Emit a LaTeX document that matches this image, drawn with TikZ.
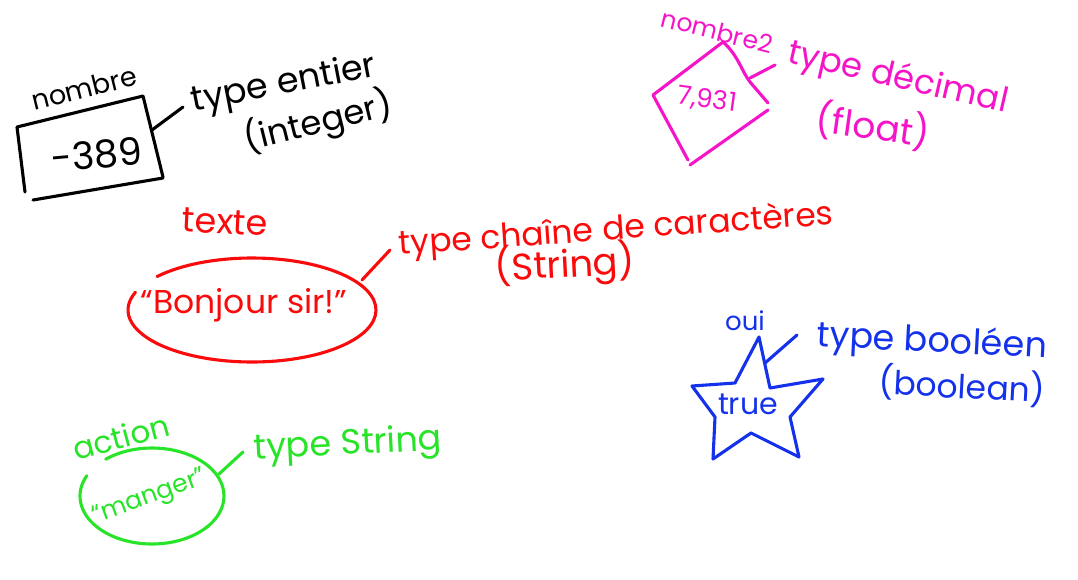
\documentclass[tikz,border=0pt]{standalone}
\usepackage{fontspec}
\setmainfont{Poppins}
\definecolor{inkblack}{RGB}{0,0,0}
\definecolor{inkpink}{RGB}{245,20,200}
\definecolor{inkred}{RGB}{250,10,10}
\definecolor{inkgreen}{RGB}{40,228,40}
\definecolor{inkblue}{RGB}{20,50,235}
\begin{document}
\begin{tikzpicture}[x=1pt,y=-1pt,
  ink/.style={line width=3.1pt, line cap=round, line join=round},
  txt/.style={inner sep=0pt, font=\fontsize{#1}{#1}\selectfont}]
\fill[white] (0,0) rectangle (1078,579);
\useasboundingbox (0,0) rectangle (1078,579);

% ---------- black : integer ----------
\begin{scope}[color=inkblack]
\draw[ink] (25,192) -- (17,127) -- (143,96) -- (163,177);
\draw[ink] (163,178) -- (33,200);
\node[txt=38, rotate=5] (n389) at (97,155) {-389};
\node[txt=27, rotate=14] (nombre) at (84,88) {nombre};
\coordinate (bA) at (152,130);
\coordinate (bB) at (183,107);
\draw[ink] (bA) -- (bB);
\node[txt=35, rotate=11] (tEntier) at (284,85) {type entier};
\node[txt=34, rotate=14] (tInteger) at (318,122) {(integer)};
\end{scope}

% ---------- pink : float ----------
\begin{scope}[color=inkpink]
\draw[ink] (688,160) -- (653,95) -- (723,42) .. controls (738,55) and (742,72) .. (750,82) -- (768,103);
\draw[ink] (768,110) -- (690,165);
\node[txt=26, rotate=-8] (n7931) at (707,100) {7,931};
\node[txt=25, rotate=-14] (nombre2) at (717,31) {nombre2};
\coordinate (pA) at (750,78);
\coordinate (pB) at (775,65);
\draw[ink] (pA) -- (pB);
\node[txt=34, rotate=-13] (tDecimal) at (898,79) {type décimal};
\node[txt=36, rotate=-8] (tFloat) at (873,126) {(float)};
\end{scope}

% ---------- red : string ----------
\begin{scope}[color=inkred]
\draw[ink] (252,310) ++(-140:124 and 52) arc[start angle=-140, end angle=200, x radius=124, y radius=52];
\node[txt=33] (bonjour) at (244,305) {“Bonjour sir!”};
\node[txt=35, rotate=-3] (texte) at (225,222) {texte};
\coordinate (rA) at (362,280);
\coordinate (rB) at (390,250);
\draw[ink] (rA) -- (rB);
\node[txt=33, rotate=4] (tChaine) at (616,231) {type chaîne de caractères};
\node[txt=37, rotate=3] (tString) at (565,265) {(String)};
\end{scope}

% ---------- green : string ----------
\begin{scope}[color=inkgreen]
\draw[ink] (152,496) ++(-130:72 and 48) arc[start angle=-130, end angle=205, x radius=72, y radius=48];
\node[txt=25, rotate=20] (manger) at (150,498) {“manger”};
\node[txt=31, rotate=15] (action) at (121,437) {action};
\coordinate (gA) at (219,474);
\coordinate (gB) at (243,452);
\draw[ink] (gA) -- (gB);
\node[txt=35, rotate=3] (tString2) at (348,446) {type String};
\end{scope}

% ---------- blue : boolean ----------
\begin{scope}[color=inkblue]
\draw[ink] (759,337) -- (770,388) -- (823,379) -- (790,417) -- (799,457) -- (751,433)
  -- (713,459) -- (715,417) -- (692,386) -- (735,383) -- cycle;
\node[txt=30] (true) at (748,404) {true};
\node[txt=26] (oui) at (745,321) {oui};
\coordinate (uA) at (765,363);
\coordinate (uB) at (797,335);
\draw[ink] (uA) -- (uB);
\node[txt=35, rotate=-3] (tBooleen) at (932,343) {type booléen};
\node[txt=33, rotate=-3] (tBoolean) at (962,386) {(boolean)};
\end{scope}
\end{tikzpicture}
\end{document}
